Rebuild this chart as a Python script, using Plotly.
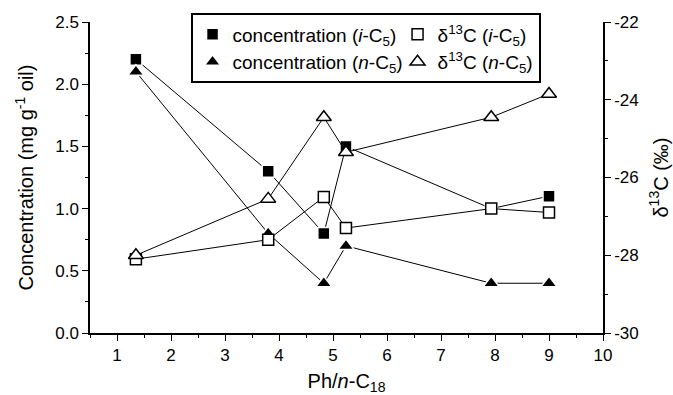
import plotly.graph_objects as go

# Ph/n-C18 ratio for each oil sample
ph_nc18 = [1.35, 3.8, 4.83, 5.24, 7.93, 9.0]

# Concentrations (mg g-1 oil)
conc_i_c5 = [2.2, 1.3, 0.8, 1.5, 1.0, 1.1]
conc_n_c5 = [2.1, 0.8, 0.4, 0.7, 0.4, 0.4]

# Carbon isotope ratios (per mil)
d13c_i_c5 = [-28.1, -27.6, -26.5, -27.3, -26.8, -26.9]
d13c_n_c5 = [-28.0, -26.55, -24.45, -25.35, -24.45, -23.85]

# Right-axis tick values and labels (hyphen minus)
d13c_tickvals = [-30, -28, -26, -24, -22]
d13c_ticktext = ["-30", "-28", "-26", "-24", "-22"]

FONT = "Liberation Sans, Arial, Helvetica, sans-serif"
BLACK = "#000000"

fig = go.Figure()

# connecting lines (drawn first so markers sit on top)
for ys in [conc_i_c5, conc_n_c5]:
    fig.add_trace(go.Scatter(x=ph_nc18, y=ys, yaxis="y", mode="lines",
                             line=dict(color=BLACK, width=1), showlegend=False,
                             hoverinfo="skip"))

fig.add_trace(go.Scatter(
    x=ph_nc18, y=conc_i_c5, yaxis="y", mode="markers",
    name="concentration (<i>i</i>-C<sub>5</sub>)", legendrank=1, legendwidth=160,
    marker=dict(symbol="square", size=12, color=BLACK,
                line=dict(color="white", width=1.5))))
fig.add_trace(go.Scatter(
    x=ph_nc18, y=conc_n_c5, yaxis="y", mode="markers",
    name="concentration (<i>n</i>-C<sub>5</sub>)", legendrank=3, legendwidth=160,
    marker=dict(symbol="triangle-up", size=14, color=BLACK,
                line=dict(color="white", width=1.5))))

for ys in [d13c_i_c5, d13c_n_c5]:
    fig.add_trace(go.Scatter(x=ph_nc18, y=ys, yaxis="y2", mode="lines",
                             line=dict(color=BLACK, width=1), showlegend=False,
                             hoverinfo="skip"))

fig.add_trace(go.Scatter(
    x=ph_nc18, y=d13c_i_c5, yaxis="y2", mode="markers",
    name="δ<sup>13</sup>C (<i>i</i>-C<sub>5</sub>)", legendrank=2, legendwidth=96,
    marker=dict(symbol="square", size=11, color="white",
                line=dict(color=BLACK, width=1.5))))
fig.add_trace(go.Scatter(
    x=ph_nc18, y=d13c_n_c5, yaxis="y2", mode="markers",
    name="δ<sup>13</sup>C (<i>n</i>-C<sub>5</sub>)", legendrank=4, legendwidth=96,
    marker=dict(symbol="triangle-up", size=13, color="white",
                line=dict(color=BLACK, width=1.5))))

axis_common = dict(showgrid=False, zeroline=False, showline=True, linecolor=BLACK,
                   linewidth=1.5, ticks="outside", tickcolor=BLACK, tickwidth=1.2,
                   automargin=False,
                   tickfont=dict(family=FONT, size=17, color=BLACK))

fig.update_layout(
    width=673, height=395,
    margin=dict(l=90, r=70, t=22, b=62, autoexpand=False),
    paper_bgcolor="white", plot_bgcolor="white",
    font=dict(family=FONT, color=BLACK),
    xaxis=dict(range=[0.5, 10], tick0=1, dtick=1, ticklen=6,
               minor=dict(ticks="outside", dtick=0.5, ticklen=3, tickcolor=BLACK, tickwidth=1.2),
               title=dict(text="Ph/<i>n</i>-C<sub>18</sub>", font=dict(family=FONT, size=20),
                          standoff=12),
               **axis_common),
    yaxis=dict(range=[0, 2.5], tick0=0, dtick=0.5, tickformat=".1f", ticklen=6,
               minor=dict(ticks="outside", dtick=0.25, ticklen=3, tickcolor=BLACK, tickwidth=1.2),
               title=dict(text="Concentration (mg g<sup>-1</sup> oil)",
                          font=dict(family=FONT, size=20), standoff=16),
               **axis_common),
    yaxis2=dict(range=[-30, -22], overlaying="y", side="right",
                tickvals=d13c_tickvals, ticktext=d13c_ticktext, ticklen=6,
                minor=dict(ticks="outside", dtick=1, ticklen=3, tickcolor=BLACK, tickwidth=1.2),
                title=dict(text="δ<sup>13</sup>C (‰)", font=dict(family=FONT, size=20),
                           standoff=16),
                **axis_common),
    legend=dict(orientation="h", x=0.196, xanchor="left", y=1.028, yanchor="top",
                bgcolor="white", bordercolor=BLACK, borderwidth=2,
                font=dict(family=FONT, size=19, color=BLACK),
                entrywidthmode="pixels", itemwidth=30, tracegroupgap=0),
    showlegend=True,
)

fig.write_html("out.html")
